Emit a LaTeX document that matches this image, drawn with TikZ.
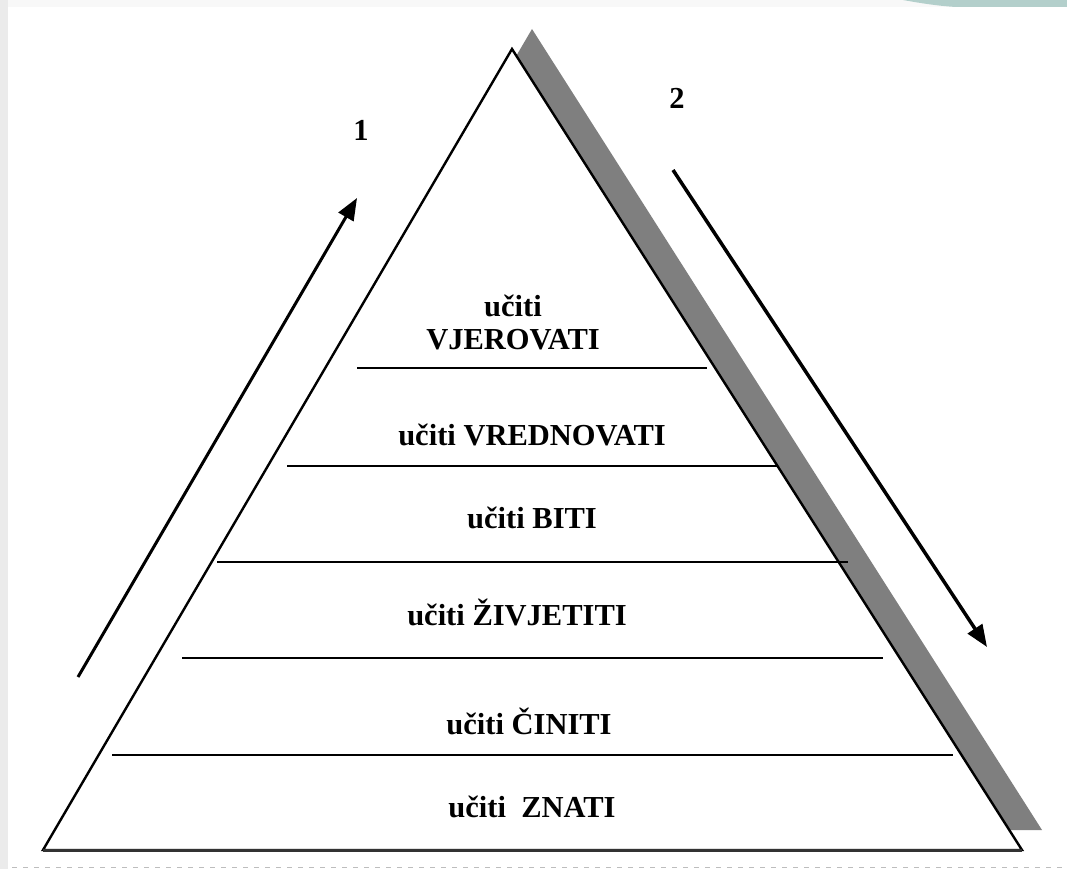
\documentclass[tikz,border=0pt]{standalone}
\usepackage{fontspec}
\setmainfont{Liberation Serif}
\usetikzlibrary{arrows.meta}
\definecolor{shadowgray}{HTML}{7F7F7F}
\definecolor{stripgray}{HTML}{EBEBEB}
\definecolor{topgray}{HTML}{F8F8F8}
\definecolor{teal}{HTML}{B3CFCB}
\definecolor{dotgray}{HTML}{BDBDBD}
\tikzset{
  lbl/.style={font=\fontsize{30.5}{36}\selectfont\bfseries, inner sep=0pt, anchor=base, align=center},
  layerline/.style={line width=2pt, black},
  flowarrow/.style={line width=3pt, -{Triangle[length=22pt,width=17pt]}},
}
\begin{document}
\begin{tikzpicture}[x=1pt,y=-1pt]
\useasboundingbox (0,0) rectangle (1067,869);
% background strips
\fill[topgray] (0,0) rectangle (1067,7);
\fill[stripgray] (0,0) rectangle (8,869);
\fill[teal] (903,0) .. controls (925,4) and (940,6) .. (956,7) -- (1067,7) -- (1067,0) -- cycle;
\draw[dotgray, line width=1.5pt, dash pattern=on 5pt off 6pt] (12,867.5) -- (1067,867.5);
% shadow
\fill[shadowgray] (532,29) -- (63,830) -- (1042,830) -- cycle;
% pyramid
\coordinate (apex) at (512,49);
\coordinate (bl) at (43,850);
\coordinate (br) at (1022,850);
\filldraw[fill=white, draw=black, line width=2.4pt, line join=miter] (apex) -- (bl) -- (br) -- cycle;
\draw[black!80, line width=3pt] (bl) -- (br);
% layer lines
\coordinate (l1a) at (357,368); \coordinate (l1b) at (707,368);
\coordinate (l2a) at (287,466); \coordinate (l2b) at (777,466);
\coordinate (l3a) at (217,562); \coordinate (l3b) at (848,562);
\coordinate (l4a) at (182,658); \coordinate (l4b) at (883,658);
\coordinate (l5a) at (112,755); \coordinate (l5b) at (953,755);
\draw[layerline] (l1a) -- (l1b);
\draw[layerline] (l2a) -- (l2b);
\draw[layerline] (l3a) -- (l3b);
\draw[layerline] (l4a) -- (l4b);
\draw[layerline] (l5a) -- (l5b);
% labels
\node[lbl] (vjer) at (513,349) {učiti\\[-0.1em]VJEROVATI};
\node[lbl] (vred) at (532,445) {učiti VREDNOVATI};
\node[lbl] (biti) at (532,528) {učiti BITI};
\node[lbl] (ziv) at (517,625) {učiti ŽIVJETITI};
\node[lbl] (cin) at (529,734) {učiti ČINITI};
\node[lbl] (zna) at (532,817) {učiti\ \ ZNATI};
\node[lbl] (n1) at (361,141) {1};
\node[lbl] (n2) at (677,109) {2};
% arrows
\coordinate (a1s) at (78,677);
\coordinate (a1e) at (357,198);
\coordinate (a2s) at (673,170);
\coordinate (a2e) at (987,647);
\draw[flowarrow] (a1s) -- (a1e);
\draw[flowarrow, line width=3.5pt] (a2s) -- (a2e);
\end{tikzpicture}
\end{document}
